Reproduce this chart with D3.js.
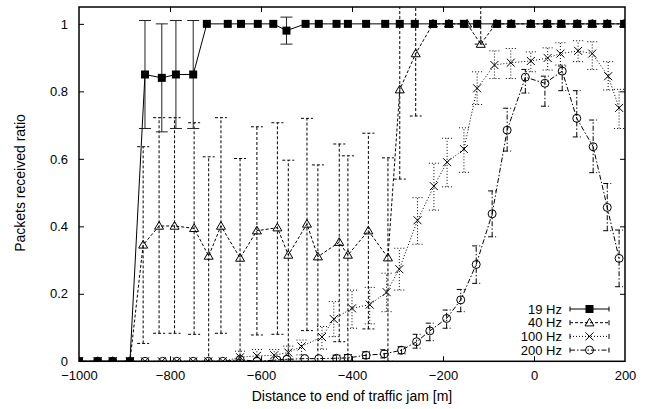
<!DOCTYPE html>
<html>
<head>
<meta charset="utf-8">
<script src="https://cdn.jsdelivr.net/npm/d3@7"></script>
<style>
  html, body { margin: 0; padding: 0; background: #fff; }
  svg { display: block; font-family: "Liberation Sans", Arial, sans-serif; }
</style>
</head>
<body>
<svg id="chart" width="654" height="409"></svg>
<script>
// ---------- data ----------
const xTicks = [-1000, -800, -600, -400, -200, 0, 200];
const yTicks = [0, 0.2, 0.4, 0.6, 0.8, 1];
const seriesNames = ["19 Hz", "40 Hz", "100 Hz", "200 Hz"];

const x19 = [-1000,-959,-926,-888,-855,-818,-787,-749,-719,-673,-644,-607,-573,-544,-502,-473,-434,-409,-369,-327,-295,-262,-222,-187,-154,-125,-81,-50,-7,29,60,95,128,161,198];
const y19 = [0,0,0,0,0.85,0.84,0.85,0.85,1,1,1,1,1,0.98,1,1,1,1,1,1,1,1,1,1,1,1,1,1,1,1,1,1,1,1,1];
const lo19 = [0,0,0,0,0.69,0.68,0.69,0.69,1,1,1,1,1,0.94,1,1,1,1,1,1,1,1,1,1,1,1,1,1,1,1,1,1,1,1,1];
const hi19 = [0,0,0,0,1.01,1.0,1.01,1.01,1,1,1,1,1,1.02,1,1,1,1,1,1,1,1,1,1,1,1,1,1,1,1,1,1,1,1,1];

const x40 = [-1000,-959,-926,-888,-859,-824,-790,-747,-715,-688,-646,-609,-564,-540,-499,-475,-428,-409,-364,-321,-295,-260,-222,-187,-147,-117,-84,-50,-7,29,60,95,128,161,198];
const y40 = [0,0,0,0,0.345,0.401,0.401,0.394,0.312,0.401,0.306,0.387,0.396,0.315,0.407,0.310,0.353,0.315,0.387,0.307,0.805,0.912,1,1,1,0.94,1,1,1,1,1,1,1,1,1];
const lo40 = [0,0,0,0,0.053,0.083,0.083,0.080,0,0.083,0,0.078,0.080,0,0.091,0,0.058,0,0.096,0,0.54,0.727,1,1,1,0.94,1,1,1,1,1,1,1,1,1];
const hi40 = [0,0,0,0,0.636,0.722,0.722,0.707,0.606,0.722,0.601,0.695,0.707,0.596,0.72,0.582,0.644,0.609,0.676,0.603,1.2,1.2,1,1,1,1.2,1,1,1,1,1,1,1,1,1];

const x100 = [-1000,-959,-926,-888,-855,-818,-785,-749,-716,-684,-646,-609,-571,-540,-511,-466,-440,-400,-361,-324,-296,-256,-220,-191,-154,-125,-87,-51,-7,30,58,97,128,163,187];
const y100 = [0,0,0,0,0,0,0,0,0,0,0.012,0.016,0.018,0.026,0.044,0.072,0.125,0.157,0.168,0.205,0.273,0.418,0.519,0.590,0.629,0.809,0.878,0.885,0.890,0.899,0.912,0.920,0.912,0.845,0.751];
const lo100 = [0,0,0,0,0,0,0,0,0,0,0,0,0,0.005,0.019,0.036,0.073,0.098,0.111,0.147,0.211,0.347,0.448,0.517,0.560,0.761,0.838,0.838,0.858,0.863,0.878,0.888,0.865,0.804,0.690];
const hi100 = [0,0,0,0,0,0,0,0,0,0,0.03,0.035,0.035,0.045,0.063,0.103,0.177,0.211,0.219,0.261,0.335,0.485,0.587,0.661,0.692,0.858,0.920,0.927,0.917,0.929,0.944,0.950,0.947,0.888,0.806];

const x200 = [-1000,-959,-926,-888,-855,-816,-785,-749,-716,-684,-646,-609,-565,-543,-504,-473,-434,-409,-369,-329,-291,-258,-229,-192,-161,-127,-92,-59,-19,24,62,94,130,161,187];
const y200 = [0,0,0,0,0,0,0,0,0,0,0.005,0,0.004,0.006,0.008,0.008,0.009,0.010,0.018,0.022,0.033,0.058,0.090,0.127,0.182,0.287,0.437,0.685,0.842,0.824,0.860,0.720,0.636,0.456,0.305];
const lo200 = [0,0,0,0,0,0,0,0,0,0,0,0,0,0,0,0,0,0,0.008,0.010,0.022,0.039,0.061,0.098,0.147,0.231,0.369,0.623,0.795,0.756,0.802,0.665,0.559,0.387,0.221];
const hi200 = [0,0,0,0,0,0,0,0,0,0,0,0,0,0,0,0,0.018,0.02,0.028,0.034,0.043,0.080,0.113,0.152,0.213,0.342,0.505,0.750,0.865,0.845,0.875,0.802,0.715,0.527,0.389];

// ---------- layout ----------
const svg = d3.select("#chart");
const pLeft = 79, pRight = 625, pTop = 7, pBottom = 361.3;
const x = d3.scaleLinear().domain([-1000, 200]).range([pLeft, pRight]);
const y = d3.scaleLinear().domain([0, 1.05]).range([pBottom, pTop]);

svg.append("rect").attr("width", 654).attr("height", 409).attr("fill", "#fff");

svg.append("defs").append("clipPath").attr("id", "clip")
  .append("rect").attr("x", pLeft).attr("y", pTop).attr("width", pRight - pLeft).attr("height", pBottom - pTop);

// axes
const fs = "13px";
const gB = svg.append("g").attr("transform", `translate(0,${pBottom})`)
  .call(d3.axisBottom(x).tickValues(xTicks).tickSize(-5).tickPadding(9.5).tickFormat(d3.format("d")));
const gT = svg.append("g").attr("transform", `translate(0,${pTop})`)
  .call(d3.axisTop(x).tickValues(xTicks).tickSize(-5).tickFormat(""));
const gL = svg.append("g").attr("transform", `translate(${pLeft},0)`)
  .call(d3.axisLeft(y).tickValues(yTicks).tickSize(-5).tickPadding(11).tickFormat(d => d === 0 ? "0" : d === 1 ? "1" : d3.format(".1f")(d)));
const gR = svg.append("g").attr("transform", `translate(${pRight},0)`)
  .call(d3.axisRight(y).tickValues(yTicks).tickSize(-5).tickFormat(""));
[gB, gT, gL, gR].forEach(g => {
  g.select(".domain").remove();
  g.selectAll(".tick line").attr("stroke", "#000").attr("stroke-width", 1);
  g.selectAll("text").attr("font-size", fs).attr("fill", "#000").attr("font-family", "Liberation Sans, Arial, sans-serif");
});
gB.selectAll(".tick").filter(d => d === 200 || d === -1000).select("line").remove();
gT.selectAll(".tick").filter(d => d === 200 || d === -1000).select("line").remove();
gL.selectAll(".tick").filter(d => d === 0).select("line").remove();
gR.selectAll(".tick").filter(d => d === 0).select("line").remove();

// axis titles
svg.append("text").attr("x", 352).attr("y", 401)
  .attr("text-anchor", "middle").attr("font-size", "14px").text("Distance to end of traffic jam [m]");
svg.append("text").attr("transform", `translate(25,183) rotate(-90)`)
  .attr("text-anchor", "middle").attr("font-size", "14px").text("Packets received ratio");

// ---------- series ----------
const series = [
  { name: seriesNames[0], xs: x19, ys: y19, lo: lo19, hi: hi19, dash: null, cap: 12, marker: "square", ecol: "#222" },
  { name: seriesNames[1], xs: x40, ys: y40, lo: lo40, hi: hi40, dash: "3,2", cap: 12, marker: "triangle", ecol: "#000" },
  { name: seriesNames[2], xs: x100, ys: y100, lo: lo100, hi: hi100, dash: "1,2", cap: 10, marker: "cross", ecol: "#000" },
  { name: seriesNames[3], xs: x200, ys: y200, lo: lo200, hi: hi200, dash: "5,2,1.5,2", cap: 8, marker: "circle", ecol: "#000" }
];

function drawMarker(g, type, cx, cy) {
  if (type === "square") {
    g.append("rect").attr("x", cx - 4).attr("y", cy - 4).attr("width", 8).attr("height", 8).attr("fill", "#000");
  } else if (type === "triangle") {
    g.append("path").attr("d", `M${cx},${cy - 4.5}L${cx + 4.5},${cy + 3.2}L${cx - 4.5},${cy + 3.2}Z`)
      .attr("fill", "none").attr("stroke", "#000").attr("stroke-width", 1);
  } else if (type === "cross") {
    g.append("path").attr("d", `M${cx - 4},${cy - 4}L${cx + 4},${cy + 4}M${cx - 4},${cy + 4}L${cx + 4},${cy - 4}`)
      .attr("fill", "none").attr("stroke", "#000").attr("stroke-width", 1);
  } else if (type === "circle") {
    g.append("circle").attr("cx", cx).attr("cy", cy).attr("r", 4)
      .attr("fill", "none").attr("stroke", "#000").attr("stroke-width", 1);
  }
}

const plot = svg.append("g").attr("clip-path", "url(#clip)");
// draw in reverse so 19 Hz on top
series.slice().reverse().forEach(s => {
  const g = plot.append("g");
  const pts = s.xs.map((xv, i) => ({ x: xv, y: s.ys[i], lo: s.lo[i], hi: s.hi[i] }));
  // error bars
  pts.forEach(p => {
    if (p.hi - p.lo < 1e-6) return;
    const px = x(p.x);
    const e = g.append("g").attr("stroke", s.ecol).attr("stroke-width", 1).attr("fill", "none");
    if (s.dash) e.attr("stroke-dasharray", s.dash);
    e.append("line").attr("x1", px).attr("x2", px).attr("y1", y(p.lo)).attr("y2", y(p.hi));
    e.append("line").attr("x1", px - s.cap / 2).attr("x2", px + s.cap / 2).attr("y1", y(p.lo)).attr("y2", y(p.lo));
    e.append("line").attr("x1", px - s.cap / 2).attr("x2", px + s.cap / 2).attr("y1", y(p.hi)).attr("y2", y(p.hi));
  });
  // line
  const line = d3.line().x(d => x(d.x)).y(d => y(d.y));
  const path = g.append("path").datum(pts).attr("d", line)
    .attr("fill", "none").attr("stroke", "#000").attr("stroke-width", 1);
  if (s.dash) path.attr("stroke-dasharray", s.dash);
  // markers
  pts.forEach(p => drawMarker(g, s.marker, x(p.x), y(p.y)));
});

// border
svg.append("rect").attr("x", pLeft).attr("y", pTop).attr("width", pRight - pLeft).attr("height", pBottom - pTop)
  .attr("fill", "none").attr("stroke", "#000").attr("stroke-width", 1.5);

// ---------- legend ----------
const legRows = [309, 322.7, 336.4, 350.1];
const lg = svg.append("g");
series.forEach((s, i) => {
  const ly = legRows[i];
  lg.append("text").attr("x", 562).attr("y", ly).attr("dy", "0.35em").attr("text-anchor", "end")
    .attr("font-size", fs).text(s.name);
  const ln = lg.append("g").attr("stroke", "#000").attr("stroke-width", 1).attr("fill", "none");
  const l = ln.append("line").attr("x1", 570).attr("x2", 609).attr("y1", ly).attr("y2", ly);
  if (s.dash) l.attr("stroke-dasharray", s.dash);
  ln.append("line").attr("x1", 570).attr("x2", 570).attr("y1", ly - 2.5).attr("y2", ly + 2.5);
  ln.append("line").attr("x1", 609).attr("x2", 609).attr("y1", ly - 2.5).attr("y2", ly + 2.5);
  drawMarker(lg, s.marker, 589.5, ly);
});
</script>
</body>
</html>
